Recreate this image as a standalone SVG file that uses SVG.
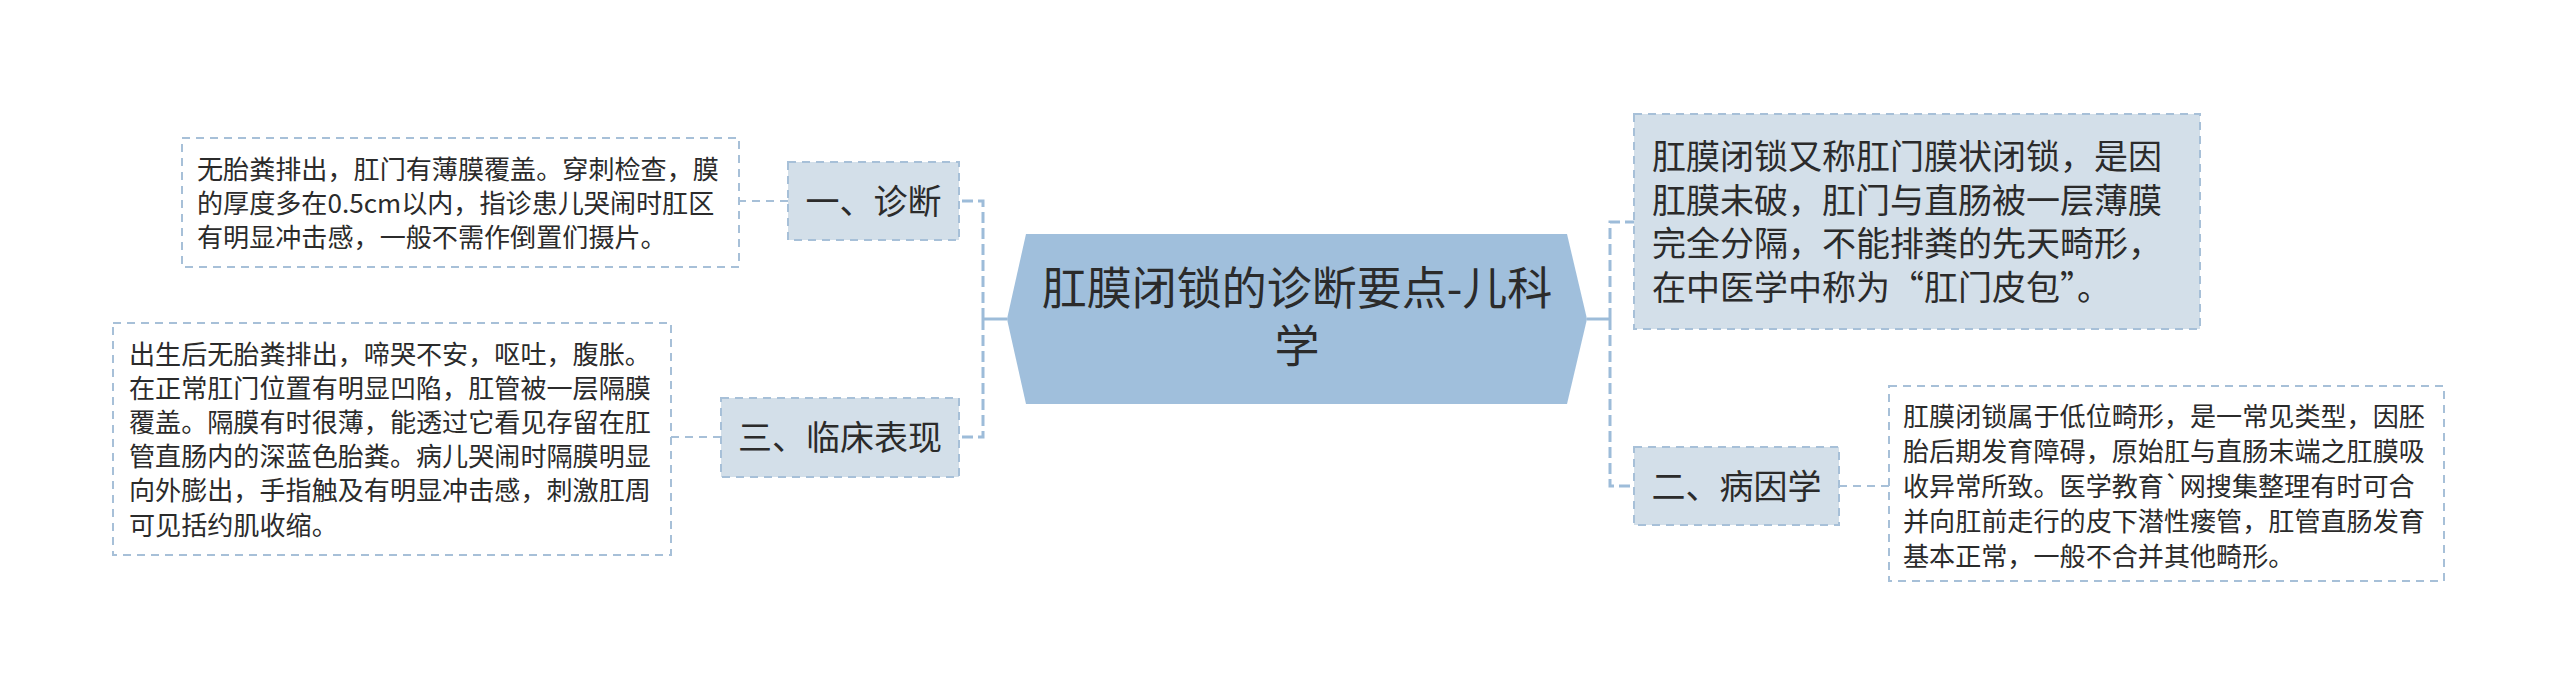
<svg xmlns="http://www.w3.org/2000/svg" width="2560" height="698" viewBox="0 0 2560 698">
<style>
text{font-family:"Noto Sans CJK SC","Microsoft YaHei","Liberation Sans",sans-serif;fill:#2b2b2b}
.c{text-anchor:middle}
.t26{font-size:26.1px}
.t34{font-size:34px}
.t45{font-size:45px}
.box{fill:#ffffff;stroke:#a7c0d8;stroke-width:2;stroke-dasharray:8 6}
.node{fill:#d3dfe9;stroke:#a7c0d8;stroke-width:2;stroke-dasharray:8 6}
.trunk{fill:none;stroke:#9dbcd9;stroke-width:3;stroke-dasharray:11 5}
.link{fill:none;stroke:#a7c0d8;stroke-width:2;stroke-dasharray:8 6}
.solid{fill:none;stroke:#9dbcd9;stroke-width:3}
</style>
<rect width="2560" height="698" fill="#ffffff"/>
<g id="connectors">
<path class="solid" d="M1007,319 H983"/>
<path class="trunk" d="M983,319 V201 H959"/>
<path class="trunk" d="M983,319 V437 H959"/>
<path class="link" d="M788,201 H739"/>
<path class="link" d="M721,437 H671"/>
<path class="solid" d="M1587,319 H1610"/>
<path class="trunk" d="M1610,319 V222 H1634"/>
<path class="trunk" d="M1610,319 V486 H1634"/>
<path class="link" d="M1839,486 H1889"/>
</g>
<g id="central">
<polygon points="1007,319 1026,234 1567,234 1587,319 1567,404 1026,404" fill="#a0bfdc"/>
<text class="c t45" x="1297" y="305">肛膜闭锁的诊断要点-儿科</text>
<text class="c t45" x="1297" y="363">学</text>
</g>
<g id="node-diagnosis">
<rect class="node" x="788" y="162" width="171" height="78"/>
<text class="c t34" x="873.5" y="214">一、诊断</text>
</g>
<g id="text-diagnosis">
<rect class="box" x="182" y="138" width="557" height="129"/>
<text class="t26" x="197" y="178.5">无胎粪排出，肛门有薄膜覆盖。穿刺检查，膜</text>
<text class="t26" x="197" y="212.5">的厚度多在0.5cm以内，指诊患儿哭闹时肛区</text>
<text class="t26" x="197" y="246.5">有明显冲击感，一般不需作倒置们摄片。</text>
</g>
<g id="node-clinical">
<rect class="node" x="721" y="398" width="238" height="79"/>
<text class="c t34" x="840" y="450">三、临床表现</text>
</g>
<g id="text-clinical">
<rect class="box" x="113" y="323" width="558" height="232"/>
<text class="t26" x="129" y="363.5">出生后无胎粪排出，啼哭不安，呕吐，腹胀。</text>
<text class="t26" x="129" y="397.7">在正常肛门位置有明显凹陷，肛管被一层隔膜</text>
<text class="t26" x="129" y="431.9">覆盖。隔膜有时很薄，能透过它看见存留在肛</text>
<text class="t26" x="129" y="466.1">管直肠内的深蓝色胎粪。病儿哭闹时隔膜明显</text>
<text class="t26" x="129" y="500.3">向外膨出，手指触及有明显冲击感，刺激肛周</text>
<text class="t26" x="129" y="534.5">可见括约肌收缩。</text>
</g>
<g id="node-definition">
<rect class="node" x="1634" y="114" width="566" height="215"/>
<text class="t34" x="1652" y="169">肛膜闭锁又称肛门膜状闭锁，是因</text>
<text class="t34" x="1652" y="212.5">肛膜未破，肛门与直肠被一层薄膜</text>
<text class="t34" x="1652" y="256">完全分隔，不能排粪的先天畸形，</text>
<text class="t34" x="1652" y="299.5">在中医学中称为“肛门皮包”。</text>
</g>
<g id="node-etiology">
<rect class="node" x="1634" y="447" width="205" height="78"/>
<text class="c t34" x="1736.5" y="499">二、病因学</text>
</g>
<g id="text-etiology">
<rect class="box" x="1889" y="386" width="555" height="195"/>
<text class="t26" x="1903" y="425.5">肛膜闭锁属于低位畸形，是一常见类型，因胚</text>
<text class="t26" x="1903" y="460.5">胎后期发育障碍，原始肛与直肠末端之肛膜吸</text>
<text class="t26" x="1903" y="495.5">收异常所致。医学教育`网搜集整理有时可合</text>
<text class="t26" x="1903" y="530.5">并向肛前走行的皮下潜性瘘管，肛管直肠发育</text>
<text class="t26" x="1903" y="565.5">基本正常，一般不合并其他畸形。</text>
</g>
</svg>
